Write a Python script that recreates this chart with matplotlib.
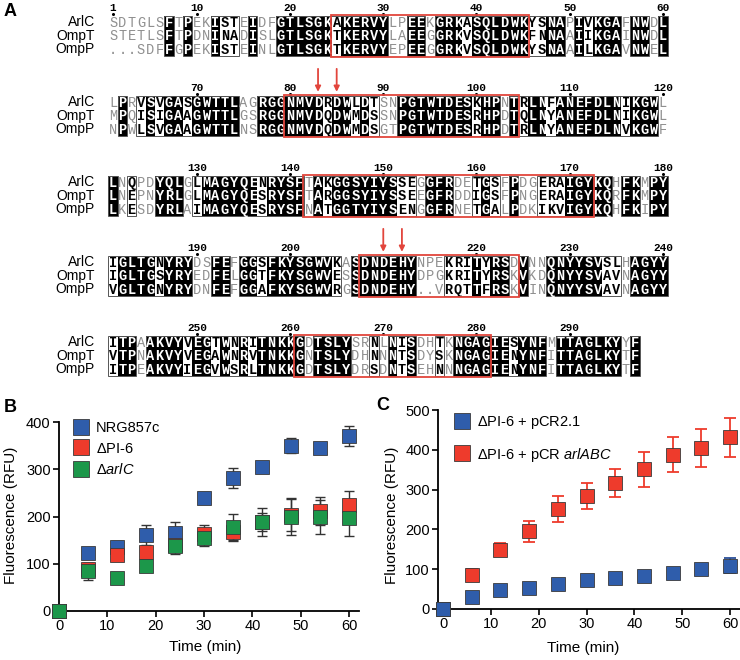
import numpy as np
import matplotlib.pyplot as plt
from matplotlib.patches import Rectangle
from matplotlib.lines import Line2D

plt.rcParams['font.family'] = ['Liberation Sans', 'DejaVu Sans']
plt.rcParams['mathtext.fontset'] = 'custom'
plt.rcParams['mathtext.rm'] = 'Liberation Sans'
plt.rcParams['mathtext.it'] = 'Liberation Sans:italic'

W, H = 740, 660

# ---------------- panel A: alignment ----------------
seq_names = ['ArlC', 'OmpT', 'OmpP']
arlc_blocks = [
    "SDTGLSFTPEKISTEIDFGTLSGKAKERVYLPEEKGRKASQLDWKYSNAPIVKGAFNWDL",
    "LPRVSVGASGWTTLAGRGGNMVDRDWLDTSNPGTWTDESKHPNTRLNFANEFDLNIKGWL",
    "LNQPDYQLGLMAGYQENRYSFTAKGGSYIYSSEGGFRDETGSFPDGERAIGYKQHFKMPY",
    "IGLTGNYRYDSFEFGGSFKYSGWVKASDNDEHYNPEKRITYRSDVNNQNYYSVSLHAGYY",
    "ITPAAKVYVEGTWNRITNKKGDTSLYSRNLNISDHTKNGAGIESYNFMTTAGLKYYF",
]
ompt_blocks = [
    "STETLSFTPDNINADISLGTLSGKTKERVYLAEEGGRKVSQLDWKFNNAAIIKGAINWDL",
    "MPQISIGAAGWTTLGSRGGNMVDQDWMDSSNPGTWTDESRHPDTQLNYANEFDLNIKGWL",
    "LNEPNYRLGLMAGYQESRYSFTARGGSYIYSSEEGFRDDIGSFPNGERAIGYKQRFKMPY",
    "IGLTGSYRYEDFELGGTFKYSGWVESSDNDEHYDPGKRITYRSKVKDQNYYSVAVNAGYY",
    "VTPNAKVYVEGAWNRVTNKKGNTSLYDHNNNTSDYSKNGAGIENYNFITTAGLKYTF",
]
ompp_blocks = [
    "...SDFFGPEKISTEINLGTLSGKTKERVYEPEEGGRKVSQLDWKYSNAAILKGAVNWEL",
    "NPWLSVGAAGWTTLNSRGGNMVDQDWMDSGTPGTWTDESRHPDTRLNYANEFDLNVKGWF",
    "LKESDYRLAIMAGYQESRYSFNATGGTYIYSENGGFRNETGALPDKIKVIGYKQHFKIPY",
    "VGLTGNYRYDNFEFGGAFKYSGWVRGSDNDEHY..VRQTTFRSKVINQNYYSVAVNAGYY",
    "ITPEAKVYIEGVWSRLTNKKGDTSLYDRSDNTSEHNNNGAGIENYNFITTAGLKYTF",
]
# B = black (conserved), F = framed (similar), . = plain
shade_blocks = [
    "......B.B..BFF.B..BBBBBBFBBBBB..BB.BBBFBBBBBBFFBB.BFBBB.BB.B",
    ".B.FBFBBFBBBBB..BBBBBBBFBBFBF..BBBBBBBBFBB.BFBBFBBBBBBBFBBB.",
    "B.F..BBB.FBBBBBBFBBBB.BFBBBBBBBFF.BBB..FBF.B..FFFBBBBB.BB.BB",
    "FBBBBFBBB..BB.BBFBBBBBBBF.BBBBBBB...FFFBFBB.B..BBBBBBFF.BBBB",
    "FBB.BBBBFBBFBFBFBBBBB.BBBB..F.BFB..F.BBBBBBFBBB.BBBBBBB.B",
]
redbox_cols = [(25, 45), (20, 44), (22, 52), (28, 44), (21, 41)]
arrow_cols = [[], [23, 25], [], [30, 32], []]
skip_numbers = [210]

# ---------------- panel B ----------------
time_b = [0, 6, 12, 18, 24, 30, 36, 42, 48, 54, 60]
nrg857c = [0, 122, 135, 160, 166, 240, 282, 305, 350, 345, 370]
nrg857c_err = [0, 6, 14, 22, 22, 12, 21, 4, 16, 4, 21]
dpi6 = [0, 88, 118, 125, 140, 162, 168, 188, 203, 212, 225]
dpi6_err = [0, 14, 10, 14, 12, 20, 20, 19, 33, 30, 28]
darlc = [0, 84, 70, 95, 138, 155, 178, 188, 200, 199, 197]
darlc_err = [0, 18, 3, 3, 18, 17, 27, 30, 40, 35, 38]

# ---------------- panel C ----------------
time_c = [0, 6, 12, 18, 24, 30, 36, 42, 48, 54, 60]
pcr21 = [0, 30, 47, 54, 63, 74, 78, 82, 90, 100, 109]
pcr21_err = [0, 3, 3, 3, 3, 4, 10, 10, 10, 12, 18]
pcrarl = [0, 86, 149, 195, 251, 284, 316, 351, 387, 405, 431]
pcrarl_err = [0, 15, 17, 26, 33, 32, 35, 44, 44, 48, 50]

BLUE = '#2F5DAB'
RED = '#EE3B2C'
GREEN = '#1C974A'
BOXRED = '#E2453C'

fig = plt.figure(figsize=(W / 100, H / 100), dpi=100)

# alignment drawn in pixel space
axA = fig.add_axes([0, 0, 1, 1])
axA.set_xlim(0, W)
axA.set_ylim(H, 0)
axA.axis('off')

X0, DX = 113, 9.32
Y0, DY, BLK = 22.5, 13.3, 80
mono = 'Liberation Mono'

for k in range(5):
    seqs = [arlc_blocks[k], ompt_blocks[k], ompp_blocks[k]]
    shade = shade_blocks[k]
    yc = [Y0 + k * BLK + r * DY for r in range(3)]
    top = yc[0] - DY / 2
    n = len(shade)
    xs = X0 + DX * np.arange(n)

    # runs of shaded columns
    c = 0
    while c < n:
        if shade[c] == '.':
            c += 1
            continue
        e = c
        while e < n and shade[e] != '.':
            e += 1
        axA.add_patch(Rectangle((xs[c] - DX / 2, top), (e - c) * DX, 3 * DY,
                                fill=False, ec='#555555', lw=0.7, zorder=2))
        j = c
        while j < e:
            if shade[j] == 'B':
                m = j
                while m < e and shade[m] == 'B':
                    m += 1
                axA.add_patch(Rectangle((xs[j] - DX / 2, top), (m - j) * DX, 3 * DY,
                                        fc='black', ec='none', zorder=1))
                j = m
            else:
                j += 1
        c = e

    for r, s in enumerate(seqs):
        axA.text(95, yc[r], seq_names[r], ha='right', va='center', fontsize=10)
        for j, ch in enumerate(s):
            st = shade[j]
            if st == 'B':
                col, wt = 'white', 'bold'
            elif st == 'F':
                col, wt = 'black', 'bold'
            else:
                col, wt = '#8f8f8f', 'normal'
            axA.text(xs[j], yc[r] + 0.5, ch, ha='center', va='center', fontsize=9.8,
                     family=mono, color=col, weight=wt, zorder=3)

    # numbering
    labels = [(1, 1)] if k == 0 else []
    labels += [(c10, k * 60 + c10) for c10 in range(10, n + 1, 10)]
    for col_i, num in labels:
        if num in skip_numbers:
            continue
        axA.text(xs[col_i - 1], top - 8, str(num), ha='center', va='center',
                 fontsize=8, family=mono, weight='bold')
        axA.plot(xs[col_i - 1], top - 2, 'o', ms=1.2, color='black')

    # red box
    c0, c1 = redbox_cols[k]
    axA.add_patch(Rectangle((xs[c0 - 1] - DX / 2 - 1, top - 1), (c1 - c0 + 1) * DX + 2,
                            3 * DY + 2, fill=False, ec=BOXRED, lw=1.3, zorder=4))
    for ac in arrow_cols[k]:
        axA.annotate('', xy=(xs[ac - 1], top - 4), xytext=(xs[ac - 1], top - 27),
                     arrowprops=dict(arrowstyle='-|>', color=BOXRED, lw=1.3,
                                     mutation_scale=8, shrinkA=0, shrinkB=0))

fig.text(4 / W, 1 - 12 / H, 'A', fontsize=13, weight='bold', va='center')
fig.text(4 / W, 1 - 407 / H, 'B', fontsize=13, weight='bold', va='center')
fig.text(376 / W, 1 - 406 / H, 'C', fontsize=13, weight='bold', va='center')


def px_axes(x0, x1, ytop, ybot):
    return fig.add_axes([x0 / W, 1 - ybot / H, (x1 - x0) / W, (ybot - ytop) / H])


def style(ax):
    for s in ['top', 'right']:
        ax.spines[s].set_visible(False)
    for s in ['left', 'bottom']:
        ax.spines[s].set_linewidth(1.3)
    ax.tick_params(direction='out', length=4, width=1.2, labelsize=10.5, pad=2)
    ax.set_xticks(range(0, 61, 10))


# panel B
sx = (349 - 59) / 60.0
axB = px_axes(59, 59 + 62 * sx, 422, 611)
axB.set_xlim(0, 62)
axB.set_ylim(0, 400)
style(axB)
axB.set_yticks(range(0, 401, 100))
for y, e, colr in [(nrg857c, nrg857c_err, BLUE), (dpi6, dpi6_err, RED), (darlc, darlc_err, GREEN)]:
    axB.errorbar(time_b, y, yerr=e, fmt='none', ecolor='#333333', elinewidth=1.0,
                 capsize=3.5, capthick=1.0, clip_on=False, zorder=2)
for y, colr in [(nrg857c, BLUE), (dpi6, RED), (darlc, GREEN)]:
    axB.plot(time_b, y, 's', ms=10.5, mfc=colr, mec='#3a3a3a', mew=0.6,
             clip_on=False, zorder=3)
hB = [Line2D([], [], ls='none', marker='s', ms=12, mfc=c, mec='#3a3a3a', mew=0.6)
      for c in (BLUE, RED, GREEN)]
axB.legend(hB, ['NRG857c', r'$\Delta$PI-6', r'$\Delta\it{arlC}$'], loc='upper left',
           bbox_to_anchor=(74 / W, 1 - 421 / H), bbox_transform=fig.transFigure,
           frameon=False, fontsize=10.5, handlelength=1.0, handletextpad=0.5,
           labelspacing=0.45, borderpad=0, borderaxespad=0)
fig.text(11 / W, 1 - 515 / H, 'Fluorescence (RFU)', rotation=90, ha='center', va='center',
         fontsize=11)
fig.text(205 / W, 1 - 647 / H, 'Time (min)', ha='center', va='center', fontsize=11)

# panel C
sxc = (730 - 443) / 60.0
axC = px_axes(443 - sxc, 443 + 62 * sxc, 410, 609)
axC.set_xlim(-1, 62)
axC.set_ylim(0, 500)
style(axC)
axC.set_yticks(range(0, 501, 100))
axC.errorbar(time_c, pcrarl, yerr=pcrarl_err, fmt='none', ecolor=RED, elinewidth=1.3,
             capsize=4, capthick=1.3, clip_on=False, zorder=2)
axC.errorbar(time_c, pcr21, yerr=pcr21_err, fmt='none', ecolor='#2A4F99', elinewidth=1.3,
             capsize=4, capthick=1.3, clip_on=False, zorder=2)
axC.plot(time_c, pcrarl, 's', ms=10.5, mfc=RED, mec='#3a3a3a', mew=0.6, clip_on=False, zorder=3)
axC.plot(time_c, pcr21, 's', ms=10.5, mfc=BLUE, mec='#3a3a3a', mew=0.6, clip_on=False, zorder=4)
hC = [Line2D([], [], ls='none', marker='s', ms=12, mfc=c, mec='#3a3a3a', mew=0.6)
      for c in (BLUE, RED)]
axC.legend(hC, [r'$\Delta$PI-6 + pCR2.1', r'$\Delta$PI-6 + pCR $\it{arlABC}$'],
           loc='upper left', bbox_to_anchor=(455 / W, 1 - 414 / H),
           bbox_transform=fig.transFigure, frameon=False, fontsize=10.5,
           handlelength=1.0, handletextpad=0.5, labelspacing=1.0, borderpad=0,
           borderaxespad=0)
fig.text(392 / W, 1 - 515 / H, 'Fluorescence (RFU)', rotation=90, ha='center', va='center',
         fontsize=11)
fig.text(583 / W, 1 - 648 / H, 'Time (min)', ha='center', va='center', fontsize=11)

fig.savefig('out.png', dpi=100)
